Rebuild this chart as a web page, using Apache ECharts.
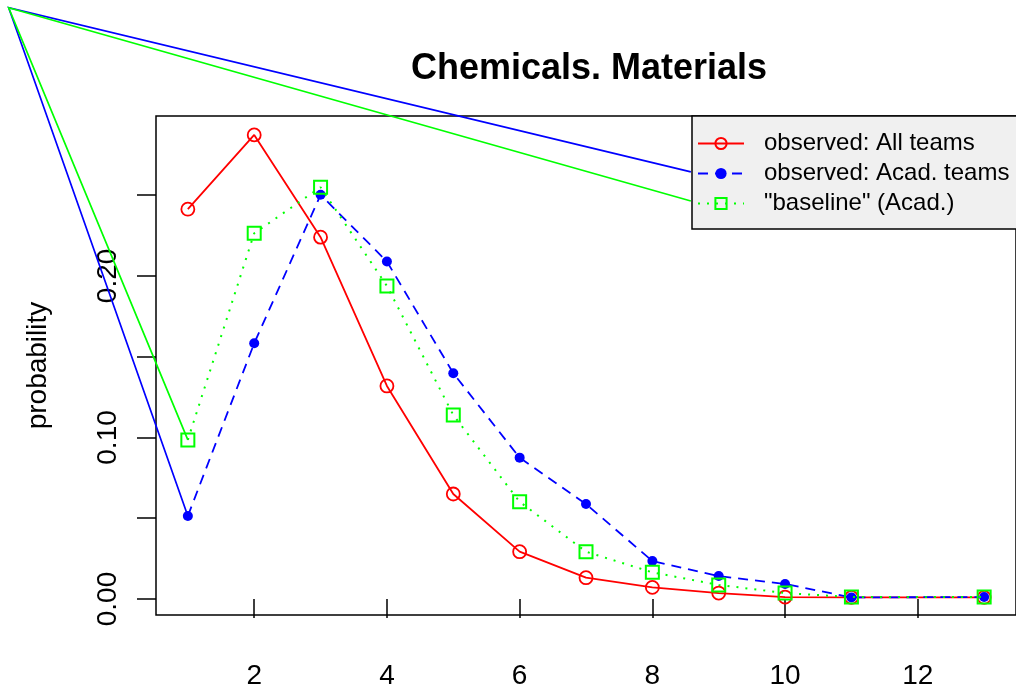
<!DOCTYPE html>
<html>
<head>
<meta charset="utf-8">
<script src="https://cdn.jsdelivr.net/npm/echarts@6/dist/echarts.min.js"></script>
<style>html,body{margin:0;padding:0;background:#fff}#c{width:1016px;height:690px}</style>
</head>
<body>
<div id="c"></div>
<script>
var xs = [1, 2, 3, 4, 5, 6, 7, 8, 9, 10, 11, 13];
var allTeams  = [0.2413, 0.2873, 0.2240, 0.1319, 0.0650, 0.0293, 0.0132, 0.0072, 0.0037, 0.0012, 0.0010, 0.0010];
var acadTeams = [0.0514, 0.1583, 0.2502, 0.2089, 0.1398, 0.0875, 0.0588, 0.0235, 0.0142, 0.0093, 0.0010, 0.0012];
var baseline  = [0.0985, 0.2264, 0.2549, 0.1938, 0.1139, 0.0602, 0.0293, 0.0165, 0.0087, 0.0037, 0.0012, 0.0012];
var xTicks = [2, 4, 6, 8, 10, 12];
var yTicks = [0, 0.05, 0.10, 0.15, 0.20, 0.25];
var yLabels = [0, 0.10, 0.20];
var names = ['observed: All teams', 'observed: Acad. teams', '"baseline" (Acad.)'];
// stray device-artifact strokes seen in the reference (data space)
var strayCorner = [-1.70, 0.3660];
var strayBlue = [[8.58, 0.2644], strayCorner, [1, 0.0514]];
var strayGreen = [[8.58, 0.2464], strayCorner, [1, 0.0985]];

function pairs(v) { return xs.map(function (x, i) { return [x, v[i]]; }); }
var FONT = '"Liberation Sans", Arial, sans-serif';

function strayRenderer(pts, color) {
  return function (params, api) {
    return {
      type: 'polyline',
      shape: {points: pts.map(function (p) { return api.coord(p); })},
      style: {stroke: color, lineWidth: 1.7, fill: null},
      silent: true
    };
  };
}

var chart = echarts.init(document.getElementById('c'), null, {renderer: 'canvas'});
chart.setOption({
  animation: false,
  backgroundColor: '#ffffff',
  title: {
    text: 'Chemicals. Materials',
    left: 584, top: 46, textAlign: 'center',
    textStyle: {fontFamily: FONT, fontSize: 36, fontWeight: 'bold', color: '#000'}
  },
  grid: {left: 156, right: -8, top: 116, bottom: 75, show: true, borderColor: '#000', borderWidth: 1.5, backgroundColor: 'transparent'},
  xAxis: {
    type: 'value', min: 0.52, max: 13.48,
    axisLine: {show: false},
    splitLine: {show: false},
    axisTick: {show: true, length: 19, lineStyle: {color: '#000', width: 1.5}, customValues: xTicks},
    axisLabel: {margin: 47, fontFamily: FONT, fontSize: 28, color: '#000', customValues: xTicks}
  },
  yAxis: {
    type: 'value', min: -0.0099, max: 0.299,
    name: 'probability', nameLocation: 'middle', nameGap: 104, nameRotate: 90,
    nameTextStyle: {fontFamily: FONT, fontSize: 28, color: '#000'},
    axisLine: {show: false},
    splitLine: {show: false},
    axisTick: {show: true, length: 19, lineStyle: {color: '#000', width: 1.5}, customValues: yTicks},
    axisLabel: {margin: 34, rotate: 90, fontFamily: FONT, fontSize: 28, color: '#000', customValues: yLabels,
      formatter: function (v) { return v.toFixed(2); }}
  },
  legend: {
    data: names, orient: 'vertical', left: 692, top: 116,
    padding: [15, 60, 13, 5], itemGap: 5, itemWidth: 46, itemHeight: 14,
    backgroundColor: '#f0f0f0', borderColor: '#000', borderWidth: 1.5,
    textStyle: {fontFamily: FONT, fontSize: 24, color: '#000', lineHeight: 24, padding: [1, 0, 0, 15]},
    selectedMode: false
  },
  series: [
    {name: names[0], type: 'line', data: pairs(allTeams), symbol: 'circle', symbolSize: 13,
      itemStyle: {color: 'rgba(0,0,0,0)', borderColor: '#ff0000', borderWidth: 1.8},
      lineStyle: {color: '#ff0000', width: 1.8}, z: 3},
    {name: names[1], type: 'line', data: pairs(acadTeams), symbol: 'circle', symbolSize: 10,
      itemStyle: {color: '#0000ff', borderColor: '#0000ff', borderWidth: 0},
      lineStyle: {color: '#0000ff', width: 1.8, type: [10, 7]}, z: 4},
    {name: names[2], type: 'line', data: pairs(baseline), symbol: 'rect', symbolSize: 13,
      itemStyle: {color: 'rgba(0,0,0,0)', borderColor: '#00ff00', borderWidth: 2},
      lineStyle: {color: '#00ff00', width: 2, type: [2, 7]}, z: 5},
    {name: 'strayBlue', type: 'custom', data: [0], clip: false, silent: true, z: 10,
      renderItem: strayRenderer(strayBlue, '#0000ff')},
    {name: 'strayGreen', type: 'custom', data: [0], clip: false, silent: true, z: 10,
      renderItem: strayRenderer(strayGreen, '#00ff00')}
  ]
});
</script>
</body>
</html>
